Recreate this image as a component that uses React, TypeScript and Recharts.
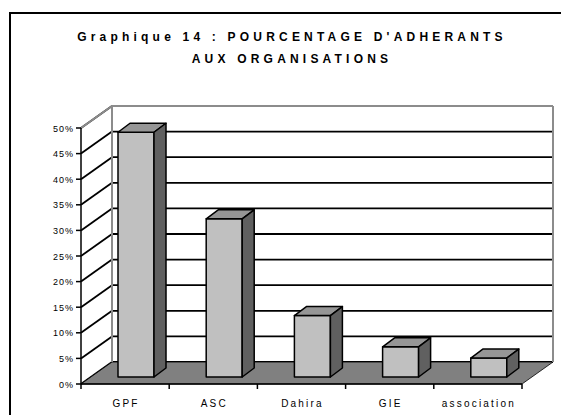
import { BarChart, Bar, XAxis, YAxis, CartesianGrid, ReferenceArea } from "recharts";

const categories = ["GPF", "ASC", "Dahira", "GIE", "association"];
const percents = [47.8, 30.9, 12.0, 5.9, 3.7];
const yTicks = [0, 5, 10, 15, 20, 25, 30, 35, 40, 45, 50];
const titleLines = ["Graphique 14 : POURCENTAGE D'ADHERANTS", "AUX ORGANISATIONS"];

const data = categories.map((name, i) => ({ name, value: percents[i] }));

const W = 561;
const H = 415;
const MARGIN = { top: 128, right: 39, bottom: 0, left: 0 };
const Y_AXIS_W = 81;
const X_AXIS_H = 31;
const PLOT_W = W - MARGIN.left - MARGIN.right - Y_AXIS_W;

// depth of the 3D box (floor / back wall offset)
const DX = 31;
const DY = -22;
// bar placement inside the depth
const BAR_DX = 11;
const BAR_DY = -7;
const BAR_DEPTH_X = 12;
const BAR_DEPTH_Y = -9;

const FONT = "'Liberation Sans', Arial, sans-serif";

function Bar3D(props: any) {
  const { x, y, width, height } = props;
  if (height == null || isNaN(height)) return null;
  const fx = x + BAR_DX;
  const fy = y + BAR_DY;
  const bx = BAR_DEPTH_X;
  const by = BAR_DEPTH_Y;
  const top = `${fx},${fy} ${fx + bx},${fy + by} ${fx + width + bx},${fy + by} ${fx + width},${fy}`;
  const side = `${fx + width},${fy} ${fx + width + bx},${fy + by} ${fx + width + bx},${fy + height + by} ${fx + width},${fy + height}`;
  return (
    <g stroke="#000" strokeWidth={1.5} strokeLinejoin="round">
      <rect x={fx} y={fy} width={width} height={height} fill="#c0c0c0" />
      <polygon points={top} fill="#969696" />
      <polygon points={side} fill="#606060" />
    </g>
  );
}

function Box3D(props: any) {
  const { x, y, width, height } = props;
  const b = y + height;
  const floor = `${x},${b} ${x + width},${b} ${x + width + DX},${b + DY} ${x + DX},${b + DY}`;
  return (
    <g>
      <polygon points={floor} fill="#808080" stroke="#000" strokeWidth={0.8} />
      <g stroke="#8c8c8c" strokeWidth={2} fill="none">
        <line x1={x + DX} y1={y + DY} x2={x + DX} y2={b + DY} />
        <line x1={x + width + DX} y1={y + DY} x2={x + width + DX} y2={b + DY} />
        <line x1={x + DX} y1={y + DY} x2={x + width + DX} y2={y + DY} />
        <line x1={x} y1={y} x2={x + DX} y2={y + DY} />
      </g>
    </g>
  );
}

function WallGridLine(props: any) {
  const { x1, y1, x2 } = props;
  return (
    <g key={`g-${y1}`} stroke="#000" strokeWidth={1.8}>
      <line x1={x1} y1={y1} x2={x1 + DX} y2={y1 + DY} />
      <line x1={x1 + DX} y1={y1 + DY} x2={x2 + DX} y2={y1 + DY} />
    </g>
  );
}

function XTick(props: any) {
  const { x, y, payload, index } = props;
  const half = PLOT_W / categories.length / 2;
  return (
    <g>
      <line x1={x - half} y1={y} x2={x - half} y2={y + 5} stroke="#000" strokeWidth={1.5} />
      {index === categories.length - 1 && (
        <line x1={x + half} y1={y} x2={x + half} y2={y + 5} stroke="#000" strokeWidth={1.5} />
      )}
      <text x={x + 1} y={y + 23} textAnchor="middle" fontSize={10} letterSpacing={2.2} fill="#000" fontFamily={FONT}>
        {payload.value}
      </text>
    </g>
  );
}

function YTick(props: any) {
  const { x, y, payload } = props;
  return (
    <text x={x + 1} y={y + 3.5} textAnchor="end" fontSize={9} letterSpacing={1} fill="#000" fontFamily={FONT}>
      {`${payload.value}%`}
    </text>
  );
}

export default function App() {
  return (
    <div style={{ position: "fixed", left: 0, top: 0, width: W, height: H, overflow: "hidden", background: "#fff" }}>
      <div
        style={{
          position: "absolute",
          left: 9,
          top: 12,
          width: 700,
          height: 600,
          borderLeft: "2px solid #000",
          borderTop: "2px solid #000",
        }}
      />
      {titleLines.map((t, i) => (
        <div
          key={t}
          style={{
            position: "absolute",
            left: 0,
            width: 584,
            top: 29 + i * 22,
            textAlign: "center",
            fontFamily: FONT,
            fontWeight: "bold",
            fontSize: 12,
            letterSpacing: 4.2,
            lineHeight: "16px",
            color: "#000",
          }}
        >
          {t}
        </div>
      ))}
      <div style={{ position: "absolute", left: 0, top: 0 }}>
        <BarChart width={W} height={H} data={data} margin={MARGIN}>
          <ReferenceArea y1={0} y2={50} shape={Box3D} ifOverflow="visible" />
          <CartesianGrid vertical={false} horizontal={WallGridLine} />
          <XAxis
            dataKey="name"
            height={X_AXIS_H}
            tickSize={0}
            tickMargin={0}
            tickLine={false}
            axisLine={{ stroke: "#000", strokeWidth: 1.5 }}
            tick={XTick}
            interval={0}
          />
          <YAxis
            width={Y_AXIS_W}
            domain={[0, 50]}
            ticks={yTicks}
            interval={0}
            tickSize={5}
            tickMargin={3}
            tickLine={{ stroke: "#000", strokeWidth: 1.5 }}
            axisLine={{ stroke: "#000", strokeWidth: 1.5 }}
            tick={YTick}
          />
          <Bar dataKey="value" barSize={36} shape={Bar3D} isAnimationActive={false} />
        </BarChart>
      </div>
    </div>
  );
}
